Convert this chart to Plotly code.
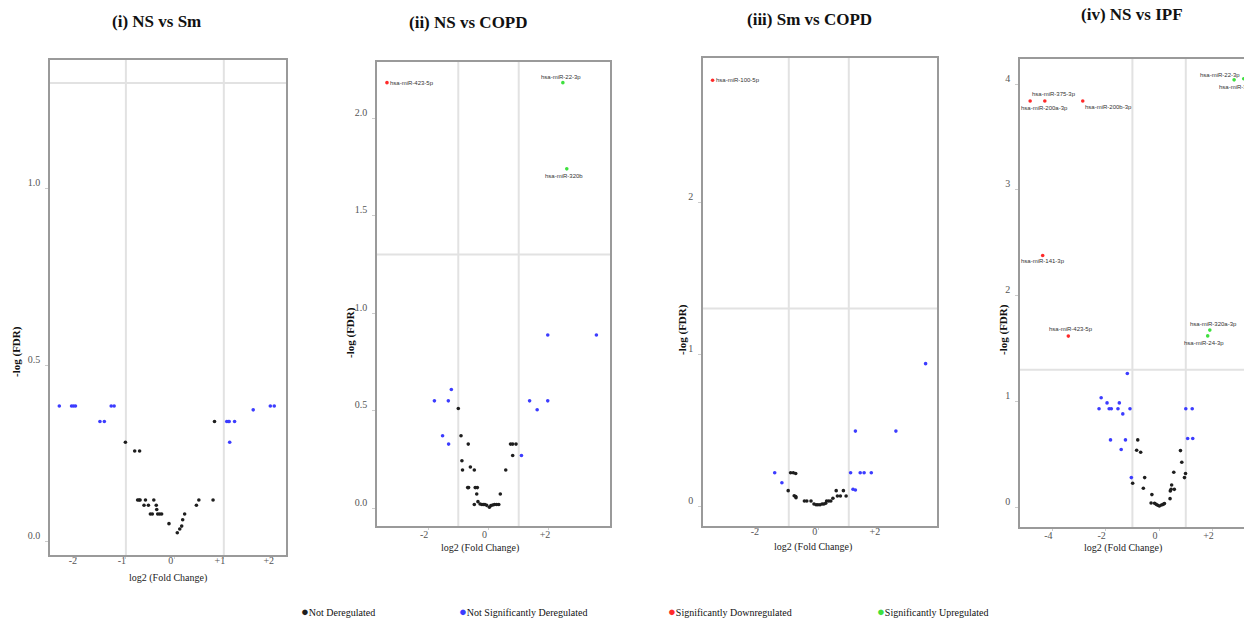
import plotly.graph_objects as go

# ---------------- DATA ----------------
# Panel (i) NS vs Sm
p1_not_x = [-1.01, -0.82, -0.72, -0.76, -0.73, -0.71, -0.60, -0.43, -0.63, -0.54, -0.38, -0.37, -0.50, -0.46,
            -0.35, -0.31, -0.27, -0.12, 0.05, 0.10, 0.14, 0.16, 0.20, 0.44, 0.49, 0.78, 0.81]
p1_not_y = [0.281, 0.256, 0.256, 0.117, 0.117, 0.117, 0.117, 0.117, 0.102, 0.102, 0.102, 0.090, 0.0775, 0.0775,
            0.0775, 0.0775, 0.0775, 0.050, 0.024, 0.035, 0.043, 0.061, 0.0775, 0.102, 0.117, 0.117, 0.340]
p1_nsig_x = [-2.36, -2.11, -2.07, -2.03, -1.53, -1.44, -1.30, -1.24, 1.06, 1.09, 1.11, 1.22, 1.12, 1.60, 1.95, 2.03]
p1_nsig_y = [0.384, 0.384, 0.384, 0.384, 0.340, 0.340, 0.384, 0.384, 0.340, 0.340, 0.340, 0.340, 0.281, 0.373, 0.384, 0.384]
p1_down_x, p1_down_y, p1_down_lab = [], [], []
p1_up_x, p1_up_y, p1_up_lab = [], [], []

# Panel (ii) NS vs COPD
p2_not_x = [-1.00, -0.91, -0.88, -0.86, -0.67, -0.60, -0.47, -0.69, -0.66, -0.44, -0.37, -0.39, -0.47, -0.35, -0.28,
            -0.22, -0.17, -0.12, -0.06, 0.03, 0.08, 0.14, 0.20, 0.27, 0.34, 0.39, 0.57, 0.73, 0.80, 0.91, 0.80]
p2_not_y = [0.512, 0.372, 0.244, 0.196, 0.329, 0.212, 0.196, 0.106, 0.106, 0.106, 0.106, 0.073, 0.019, 0.034, 0.022,
            0.019, 0.019, 0.019, 0.015, 0.005, 0.014, 0.017, 0.019, 0.019, 0.019, 0.073, 0.196, 0.329, 0.329, 0.329, 0.271]
p2_nsig_x = [-1.79, -1.33, -1.23, -1.52, -1.32, 1.09, 1.36, 1.61, 1.96, 1.96, 3.57]
p2_nsig_y = [0.551, 0.551, 0.609, 0.372, 0.329, 0.271, 0.551, 0.505, 0.551, 0.889, 0.889]
p2_down_x = [-3.36]
p2_down_y = [2.183]
p2_down_lab = ["hsa-miR-423-5p"]
p2_up_x = [2.46, 2.59]
p2_up_y = [2.183, 1.741]
p2_up_lab = ["hsa-miR-22-3p", "hsa-miR-320b"]

# Panel (iii) Sm vs COPD
p3_not_x = [-1.02, -0.94, -0.85, -0.77, -0.82, -0.77, -0.76, -0.48, -0.40, -0.26, -0.16, -0.09, -0.03, 0.04,
            0.11, 0.17, 0.23, 0.26, 0.33, 0.40, 0.47, 0.58, 0.62, 0.72, 0.82, 0.91]
p3_not_y = [0.105, 0.223, 0.223, 0.218, 0.072, 0.066, 0.059, 0.037, 0.037, 0.037, 0.017, 0.013, 0.013, 0.013,
            0.017, 0.017, 0.022, 0.037, 0.037, 0.037, 0.055, 0.105, 0.070, 0.070, 0.105, 0.070]
p3_nsig_x = [-1.47, -1.23, 1.06, 1.14, 1.22, 1.22, 1.38, 1.51, 1.75, 2.57, 3.56]
p3_nsig_y = [0.223, 0.157, 0.223, 0.114, 0.109, 0.496, 0.223, 0.223, 0.223, 0.496, 0.939]
p3_down_x = [-3.54]
p3_down_y = [2.80]
p3_down_lab = ["hsa-miR-100-5p"]
p3_up_x, p3_up_y, p3_up_lab = [], [], []

# Panel (iv) NS vs IPF
p4_not_x = [-0.80, -0.84, -0.69, -0.99, -0.54, -0.59, -0.27, -0.30, -0.17, -0.11, -0.05, 0.01, 0.09, 0.15, 0.20,
            0.41, 0.42, 0.45, 0.47, 0.57, 0.55, 0.80, 0.85, 0.95, 0.99]
p4_not_y = [0.637, 0.539, 0.521, 0.227, 0.281, 0.180, 0.120, 0.041, 0.038, 0.028, 0.019, 0.013, 0.022, 0.028, 0.035,
            0.082, 0.155, 0.170, 0.211, 0.170, 0.331, 0.536, 0.426, 0.281, 0.319]
p4_nsig_x = [-1.19, -2.17, -2.25, -1.95, -1.87, -1.79, -1.54, -1.49, -1.36, -1.09, -1.82, -1.26, -1.42, -1.04,
             1.00, 1.24, 1.07, 1.26]
p4_nsig_y = [1.265, 1.035, 0.931, 0.987, 0.931, 0.931, 0.931, 0.987, 0.883, 0.931, 0.637, 0.637, 0.546, 0.281,
             0.931, 0.931, 0.650, 0.650]
p4_down_x = [-4.83, -4.28, -2.86, -4.36, -3.40]
p4_down_y = [3.84, 3.84, 3.84, 2.38, 1.618]
p4_down_lab = ["hsa-miR-200a-3p", "hsa-miR-375-3p", "hsa-miR-200b-3p", "hsa-miR-141-3p", "hsa-miR-423-5p"]
p4_up_x = [2.81, 3.17, 1.90, 1.82]
p4_up_y = [4.04, 4.05, 1.675, 1.62]
p4_up_lab = ["hsa-miR-22-3p", "hsa-miR-320b", "hsa-miR-320a-3p", "hsa-miR-24-3p"]

titles = ["(i) NS vs Sm", "(ii) NS vs COPD", "(iii) Sm vs COPD", "(iv) NS vs IPF"]
categories = ["Not Deregulated", "Not Significantly Deregulated", "Significantly Downregulated", "Significantly Upregulated"]
fc_threshold = 1.0
fdr_threshold = 1.301  # -log10(0.05)

x_tickvals = [[-2, -1, 0, 1, 2], [-2, 0, 2], [-2, 0, 2], [-4, -2, 0, 2]]
x_ticktext = [["-2", "-1", "0", "+1", "+2"], ["-2", "0", "+2"], ["-2", "0", "+2"], ["-4", "-2", "0", "+2"]]
y_tickvals = [[0, 0.5, 1.0], [0, 0.5, 1.0, 1.5, 2.0], [0, 1, 2], [0, 1, 2, 3, 4]]
y_ticktext = [["0.0", "0.5", "1.0"], ["0.0", "0.5", "1.0", "1.5", "2.0"], ["0", "1", "2"], ["0", "1", "2", "3", "4"]]

# ---------------- STYLE / LAYOUT ----------------
W, H = 1244, 621


def fx(px):
    return px / W


def fy(py):
    return 1 - py / H


colors = ["#1e1e1e", "#3c3cff", "#ff2a2a", "#3ee03e"]

panels = [
    dict(not_=(p1_not_x, p1_not_y), nsig=(p1_nsig_x, p1_nsig_y), down=(p1_down_x, p1_down_y, p1_down_lab),
         up=(p1_up_x, p1_up_y, p1_up_lab), px=(50, 286), py=(60, 555), xr=[-2.55, 2.27], yr=[-0.039, 1.366],
         title_xy=(156, 21), ytitle_xy=(16, 352), xtitle_xy=(168, 578), right=True, xso=-7),
    dict(not_=(p2_not_x, p2_not_y), nsig=(p2_nsig_x, p2_nsig_y), down=(p2_down_x, p2_down_y, p2_down_lab),
         up=(p2_up_x, p2_up_y, p2_up_lab), px=(377, 610), py=(62, 526), xr=[-3.69, 4.02], yr=[-0.091, 2.289],
         title_xy=(468, 22), ytitle_xy=(350, 333), xtitle_xy=(480, 548), right=True, xso=-4),
    dict(not_=(p3_not_x, p3_not_y), nsig=(p3_nsig_x, p3_nsig_y), down=(p3_down_x, p3_down_y, p3_down_lab),
         up=(p3_up_x, p3_up_y, p3_up_lab), px=(703, 937), py=(58, 526), xr=[-3.86, 3.94], yr=[-0.127, 2.946],
         title_xy=(809, 19), ytitle_xy=(682, 330), xtitle_xy=(813, 547), right=True, xso=-7),
    dict(not_=(p4_not_x, p4_not_y), nsig=(p4_nsig_x, p4_nsig_y), down=(p4_down_x, p4_down_y, p4_down_lab),
         up=(p4_up_x, p4_up_y, p4_up_lab), px=(1020, 1244), py=(59, 527), xr=[-5.21, 3.18], yr=[-0.186, 4.237],
         title_xy=(1132, 15), ytitle_xy=(1003, 330), xtitle_xy=(1123, 548), right=False, xso=-4),
]

# label placement (xanchor, xshift px, yshift px) per labelled point
label_pos = {
    (1, "hsa-miR-423-5p"): ("left", 1, 0),
    (1, "hsa-miR-22-3p"): ("center", -2, 6),
    (1, "hsa-miR-320b"): ("center", -3, -7),
    (2, "hsa-miR-100-5p"): ("left", 1, 0),
    (3, "hsa-miR-200a-3p"): ("center", 14, -7),
    (3, "hsa-miR-375-3p"): ("center", 9, 7),
    (3, "hsa-miR-200b-3p"): ("left", 0, -6),
    (3, "hsa-miR-141-3p"): ("center", 0, -6),
    (3, "hsa-miR-423-5p"): ("center", 3, 7),
    (3, "hsa-miR-22-3p"): ("center", -14, 5),
    (3, "hsa-miR-320b"): ("left", -27, -8),
    (3, "hsa-miR-320a-3p"): ("center", 4, 6),
    (3, "hsa-miR-24-3p"): ("center", -4, -7),
}

fig = go.Figure()
annotations = []
shapes = []
layout = dict(width=W, height=H, margin=dict(l=0, r=0, t=0, b=0), paper_bgcolor="white",
              plot_bgcolor="white", showlegend=False)

serif = "Liberation Serif, Times New Roman, serif"

for i, p in enumerate(panels):
    n = "" if i == 0 else str(i + 1)
    xa, ya = "x" + n, "y" + n
    series = [(p["not_"][0], p["not_"][1], None), (p["nsig"][0], p["nsig"][1], None),
              (p["down"][0], p["down"][1], p["down"][2]), (p["up"][0], p["up"][1], p["up"][2])]
    for k, (xs, ys, labs) in enumerate(series):
        if not xs:
            continue
        fig.add_trace(go.Scatter(x=xs, y=ys, mode="markers", xaxis=xa, yaxis=ya, name=categories[k],
                                 marker=dict(color=colors[k], size=3.6, line=dict(width=0)),
                                 text=labs, hoverinfo="x+y+name"))
        if labs:
            for xv, yv, lab in zip(xs, ys, labs):
                anc, xs_, ys_ = label_pos[(i, lab)]
                annotations.append(dict(x=xv, y=yv, xref=xa, yref=ya, text=lab, showarrow=False,
                                        xanchor=anc, yanchor="middle", xshift=xs_, yshift=ys_,
                                        font=dict(family="Liberation Sans, Arial, sans-serif", size=6, color="#333")))
    l, r = p["px"]
    t, b = p["py"]
    layout["xaxis" + n] = dict(domain=[fx(l), min(1.0, fx(r))], range=p["xr"], anchor=ya, showgrid=False,
                               zeroline=False, showline=True, linecolor="#9a9a9a", linewidth=1.5, mirror=True,
                               tickvals=x_tickvals[i], ticktext=x_ticktext[i], ticks="outside", ticklen=2,
                               tickcolor="#cccccc", ticklabelshift=-4, ticklabelstandoff=p["xso"],
                               tickfont=dict(family=serif, size=10, color="#555"))
    layout["yaxis" + n] = dict(domain=[fy(b), fy(t)], range=p["yr"], anchor=xa, showgrid=False,
                               zeroline=False, showline=True, linecolor="#9a9a9a", linewidth=1.5,
                               mirror=p["right"], tickvals=y_tickvals[i], ticktext=y_ticktext[i],
                               ticks="outside", ticklen=3, tickcolor="#cccccc", ticklabelshift=-6,
                               ticklabelstandoff=3,
                               tickfont=dict(family=serif, size=10, color="#555"))
    # threshold lines
    for xv in (-fc_threshold, fc_threshold):
        shapes.append(dict(type="line", xref=xa, yref=ya + " domain", x0=xv, x1=xv, y0=0, y1=1,
                           line=dict(color="#e2e2e2", width=2), layer="below"))
    shapes.append(dict(type="line", xref=xa + " domain", yref=ya, x0=0, x1=1, y0=fdr_threshold, y1=fdr_threshold,
                       line=dict(color="#e2e2e2", width=2), layer="below"))
    # titles
    tx, ty = p["title_xy"]
    annotations.append(dict(x=fx(tx), y=fy(ty), xref="paper", yref="paper", text="<b>" + titles[i] + "</b>",
                            showarrow=False, xanchor="center", yanchor="middle",
                            font=dict(family=serif, size=17, color="#111")))
    yx, yy = p["ytitle_xy"]
    annotations.append(dict(x=fx(yx), y=fy(yy), xref="paper", yref="paper", text="<b>-log (FDR)</b>",
                            showarrow=False, textangle=-90, xanchor="center", yanchor="middle",
                            font=dict(family=serif, size=11, color="#111")))
    xx, xy = p["xtitle_xy"]
    annotations.append(dict(x=fx(xx), y=fy(xy), xref="paper", yref="paper", text="log2 (Fold Change)",
                            showarrow=False, xanchor="center", yanchor="middle",
                            font=dict(family=serif, size=10, color="#222")))

# legend row
legend_px = [304, 462, 671, 880]
for k, lx in enumerate(legend_px):
    annotations.append(dict(x=fx(lx - 5), y=fy(611), xref="paper", yref="paper",
                            text='<span style="color:%s;font-size:13px">●</span>%s' % (colors[k], categories[k]),
                            showarrow=False, xanchor="left", yanchor="middle",
                            font=dict(family=serif, size=10, color="#111")))

layout["annotations"] = annotations
layout["shapes"] = shapes
fig.update_layout(**layout)
# remove the default page margin so the figure fills the window exactly
fig.write_html("out.html", config={"displayModeBar": False},
               post_script="document.body.style.margin='0';document.body.style.overflow='hidden';")
